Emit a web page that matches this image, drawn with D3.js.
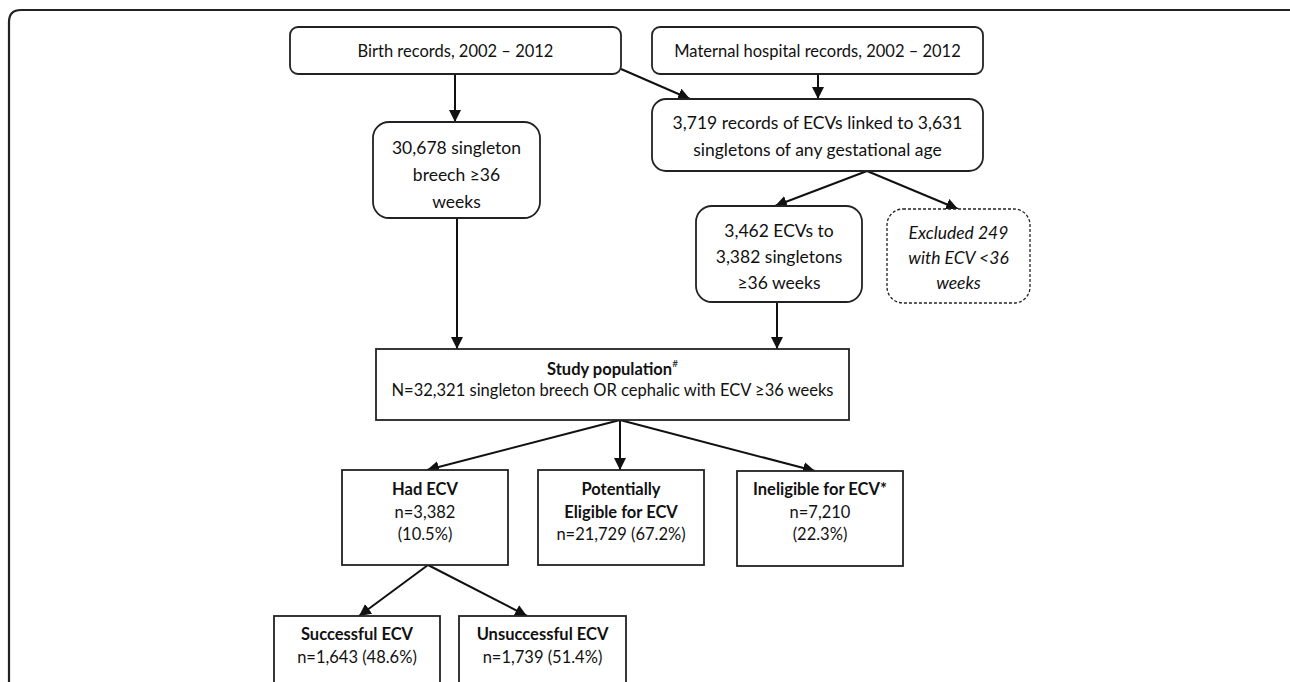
<!DOCTYPE html>
<html>
<head>
<meta charset="utf-8">
<script src="https://cdn.jsdelivr.net/npm/d3@7"></script>
<style>
body { margin: 0; background: #fff; }
svg { display: block; }
text { font-family: "Lato", "Liberation Sans", sans-serif; fill: #111; }
</style>
</head>
<body>
<svg id="chart" width="1290" height="682"></svg>
<script>

// the boxes of the flow and what is written in them
const boxIds = ['birth', 'maternal', 'breech', 'linked', 'ecv36', 'excluded',
	'study', 'had', 'potential', 'inelig', 'success', 'unsuccess']

const boxLines = [
	['Birth records, 2002 \u2013 2012'],
	['Maternal hospital records, 2002 \u2013 2012'],
	['30,678 singleton', 'breech \u226536', 'weeks'],
	['3,719 records of ECVs linked to 3,631', 'singletons of any gestational age'],
	['3,462 ECVs to', '3,382 singletons', '\u226536 weeks'],
	['Excluded 249', 'with ECV <36', 'weeks'],
	['Study population', 'N=32,321 singleton breech OR cephalic with ECV \u226536 weeks'],
	['Had ECV', 'n=3,382', '(10.5%)'],
	['Potentially', 'Eligible for ECV', 'n=21,729 (67.2%)'],
	['Ineligible for ECV*', 'n=7,210', '(22.3%)'],
	['Successful ECV', 'n=1,643 (48.6%)'],
	['Unsuccessful ECV', 'n=1,739 (51.4%)']
]

const links = [
	['birth', 'breech'], ['birth', 'linked'], ['maternal', 'linked'],
	['linked', 'ecv36'], ['linked', 'excluded'],
	['breech', 'study'], ['ecv36', 'study'],
	['study', 'had'], ['study', 'potential'], ['study', 'inelig'],
	['had', 'success'], ['had', 'unsuccess']
]

// ---- layout (pixels) ----
const layout = {
	birth:     { x0: 290, y0: 27,  x1: 621, y1: 74,  r: 8,  fs: 16.5, lh: 0,  ty: 51 },
	maternal:  { x0: 652, y0: 27,  x1: 983, y1: 74,  r: 8,  fs: 16.5, lh: 0,  ty: 51 },
	breech:    { x0: 373, y0: 122, x1: 540, y1: 218, r: 16, fs: 17.5, lh: 27, ty: 147 },
	linked:    { x0: 652, y0: 99,  x1: 983, y1: 171, r: 14, fs: 17.5, lh: 27, ty: 122 },
	ecv36:     { x0: 696, y0: 206, x1: 862, y1: 302, r: 16, fs: 17.5, lh: 26, ty: 230 },
	excluded:  { x0: 887, y0: 209, x1: 1030, y1: 303, r: 16, fs: 17.5, lh: 25, ty: 232, dash: true, italic: true },
	study:     { x0: 376, y0: 349, x1: 849, y1: 420, r: 0,  fs: 16.5, lh: 21, ty: 369, bold: true, sup: '#' },
	had:       { x0: 342, y0: 470, x1: 508, y1: 565, r: 0,  fs: 16.5, lh: 22.5, ty: 489, bold: true },
	potential: { x0: 538, y0: 470, x1: 704, y1: 565, r: 0,  fs: 16.5, lh: 22.5, ty: 489, bold: 2 },
	inelig:    { x0: 737, y0: 471, x1: 903, y1: 566, r: 0,  fs: 16.5, lh: 22.5, ty: 489, bold: true },
	success:   { x0: 274, y0: 616, x1: 440, y1: 700, r: 0,  fs: 16.5, lh: 23, ty: 634, bold: true },
	unsuccess: { x0: 459, y0: 616, x1: 626, y1: 700, r: 0,  fs: 16.5, lh: 23, ty: 634, bold: true }
}

// start / end point of every link
const linkPts = {
	'birth-breech':     [[455, 74], [455, 122]],
	'birth-linked':     [[621, 69], [690, 99]],
	'maternal-linked':  [[818, 74], [818, 99]],
	'linked-ecv36':     [[867, 171], [775, 206]],
	'linked-excluded':  [[867, 171], [958, 209]],
	'breech-study':     [[457, 218], [457, 349]],
	'ecv36-study':      [[777, 302], [777, 349]],
	'study-had':        [[620, 420], [427, 470]],
	'study-potential':  [[620, 420], [620, 470]],
	'study-inelig':     [[620, 420], [815, 471]],
	'had-success':      [[428, 565], [359, 616]],
	'had-unsuccess':    [[428, 565], [527, 616]]
}

const svg = d3.select('#chart')

svg.append('defs').append('marker')
	.attr('id', 'head')
	.attr('viewBox', '0 0 10 10')
	.attr('refX', 10).attr('refY', 5)
	.attr('markerWidth', 12).attr('markerHeight', 12)
	.attr('markerUnits', 'userSpaceOnUse')
	.attr('orient', 'auto')
	.append('path').attr('d', 'M0,0 L10,5 L0,10 Z').attr('fill', '#111')

// outer frame
svg.append('path')
	.attr('d', 'M9,690 L9,22 Q9,10 21,10 L1296,10')
	.attr('fill', 'none').attr('stroke', '#222').attr('stroke-width', 2.2)

// links
svg.append('g').selectAll('line')
	.data(links)
	.enter().append('line')
	.attr('x1', d => linkPts[d.join('-')][0][0])
	.attr('y1', d => linkPts[d.join('-')][0][1])
	.attr('x2', d => linkPts[d.join('-')][1][0])
	.attr('y2', d => linkPts[d.join('-')][1][1])
	.attr('stroke', '#111').attr('stroke-width', 2)
	.attr('marker-end', 'url(#head)')

const nodes = boxIds.map((id, i) => Object.assign({ id, lines: boxLines[i] }, layout[id]))

const g = svg.append('g').selectAll('g')
	.data(nodes)
	.enter().append('g')

g.append('rect')
	.attr('x', d => d.x0).attr('y', d => d.y0)
	.attr('width', d => d.x1 - d.x0).attr('height', d => d.y1 - d.y0)
	.attr('rx', d => d.r).attr('ry', d => d.r)
	.attr('fill', '#fff').attr('stroke', '#222')
	.attr('stroke-width', d => d.dash ? 1.3 : 1.8)
	.attr('stroke-dasharray', d => d.dash ? '3,2' : null)

g.each(function(d) {
	const cx = (d.x0 + d.x1) / 2
	const t = d3.select(this)
	d.lines.forEach((line, i) => {
		const isBold = d.bold === 2 ? i < 2 : (d.bold && i === 0)
		const txt = t.append('text')
			.attr('x', cx).attr('y', d.ty + i * d.lh)
			.attr('text-anchor', 'middle')
			.attr('dominant-baseline', 'central')
			.attr('font-size', d.fs)
			.attr('font-weight', isBold ? 'bold' : 'normal')
			.attr('font-style', d.italic ? 'italic' : 'normal')
			.text(line)
		if (d.sup && i === 0) {
			txt.append('tspan').attr('font-size', 10).attr('dy', -6).attr('font-weight', 'normal').text(d.sup)
		}
	})
})

</script>
</body>
</html>
